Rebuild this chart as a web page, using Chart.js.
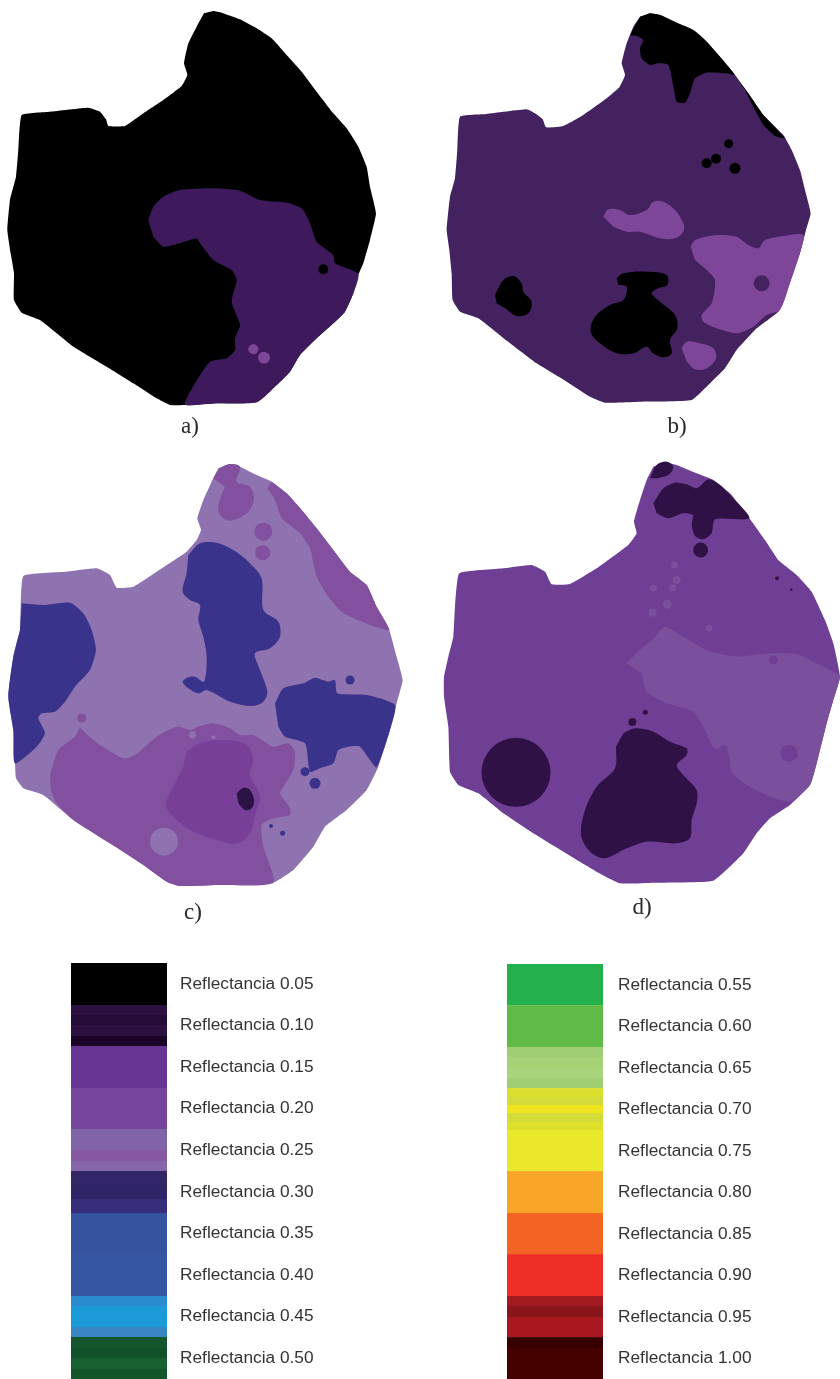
<!DOCTYPE html>
<html>
<head>
<meta charset="utf-8">
<title>Reflectancia</title>
<script src="https://cdn.jsdelivr.net/npm/chart.js@4/dist/chart.umd.min.js"></script>
<style>
  html, body { margin: 0; padding: 0; background: #fff; }
  #page { position: relative; width: 840px; height: 1379px; overflow: hidden; }
  canvas { position: absolute; }
  .tag { position: absolute; font-family: "Liberation Serif", serif; font-size: 23px; color: #2a2a2a; transform: translateX(-50%); line-height: 26px; }
</style>
</head>
<body>
<div id="page">
  <canvas id="mapA" style="left:0;top:0" width="420" height="440"></canvas>
  <canvas id="mapB" style="left:420px;top:0" width="420" height="440"></canvas>
  <canvas id="mapC" style="left:0;top:450px" width="420" height="480"></canvas>
  <canvas id="mapD" style="left:420px;top:450px" width="420" height="480"></canvas>
  <canvas id="legendLeft" style="left:71px;top:963px" width="260" height="416"></canvas>
  <canvas id="legendRight" style="left:507px;top:964px" width="260" height="415"></canvas>
  <div class="tag" style="left:190px;top:413px">a)</div>
  <div class="tag" style="left:677px;top:413px">b)</div>
  <div class="tag" style="left:193px;top:899px">c)</div>
  <div class="tag" style="left:642px;top:894px">d)</div>
</div>
<script>
// legend
const leftLabels = ["Reflectancia 0.05", "Reflectancia 0.10", "Reflectancia 0.15", "Reflectancia 0.20", "Reflectancia 0.25", "Reflectancia 0.30", "Reflectancia 0.35", "Reflectancia 0.40", "Reflectancia 0.45", "Reflectancia 0.50"];
const rightLabels = ["Reflectancia 0.55", "Reflectancia 0.60", "Reflectancia 0.65", "Reflectancia 0.70", "Reflectancia 0.75", "Reflectancia 0.80", "Reflectancia 0.85", "Reflectancia 0.90", "Reflectancia 0.95", "Reflectancia 1.00"];
// each swatch is printed with faint bands, top to bottom
const leftShades = [["#000000"], ["#2c1040", "#240a36", "#2c1040", "#1c0428"], ["#663594"], ["#74459c"], ["#7f63a8", "#8262a8", "#8458a3", "#8866ab"], ["#322568", "#2f2465", "#352c7a"], ["#36539f"], ["#3655a3"], ["#2a8ccf", "#1c9ad8", "#1c9ad8", "#3a86c4"], ["#14572c", "#10502a", "#17602f", "#12552b"]];
const rightShades = [["#22b14c"], ["#60bc46"], ["#a0ce74", "#a6d275", "#a9d47c", "#9fcf72"], ["#dbe02f", "#d4dc3a", "#efe41e", "#d4dc3a", "#dfe02a"], ["#eae82a"], ["#f9a628"], ["#f36324"], ["#ef2e27"], ["#a01a20", "#8a1519", "#a8181f", "#a8181f"], ["#360000", "#470000", "#470000", "#470000"]];
const swatchLength = [1, 1, 1, 1, 1, 1, 1, 1, 1, 1];

// map regions, [x, y] in map units (3 units = 1 px)
const outlineA = [[640,33],[665,38],[720,58],[770,85],[815,115],[860,165],[905,215],[950,275],[1000,340],[1040,385],[1075,440],[1100,500],[1110,560],[1128,640],[1110,720],[1090,790],[1075,825],[1060,880],[1035,935],[1000,970],[950,1015],[900,1065],[870,1115],[830,1155],[770,1207],[650,1210],[560,1215],[510,1215],[470,1195],[400,1150],[320,1100],[220,1040],[170,1000],[120,960],[65,938],[42,900],[42,820],[32,760],[22,690],[30,600],[48,530],[55,450],[65,345],[150,335],[265,323],[300,335],[318,358],[325,378],[375,378],[430,340],[490,300],[545,258],[562,225],[552,190],[565,130],[590,80],[612,40]];
const purpleA = [[445,660],[460,620],[490,590],[540,570],[640,565],[720,572],[780,600],[860,608],[905,625],[930,670],[950,725],[1000,765],[1005,790],[1075,822],[1060,880],[1035,935],[1000,970],[950,1015],[900,1065],[870,1115],[830,1155],[770,1207],[650,1210],[555,1214],[585,1150],[630,1085],[680,1075],[705,1050],[705,1015],[720,975],[695,905],[710,840],[695,810],[640,780],[600,730],[590,715],[540,730],[490,740],[460,710]];
const lightDotsA = [[760,1048,5],[792,1073,6]];
const blackDotsA = [[970,808,5]];

const outlineB = [[690,40],[720,45],[770,68],[820,90],[860,125],[900,170],[945,225],[985,280],[1030,345],[1090,405],[1115,450],[1140,510],[1155,570],[1172,640],[1158,690],[1140,760],[1115,830],[1095,890],[1075,935],[1010,985],[950,1050],[915,1105],[880,1140],[815,1200],[660,1205],[555,1208],[510,1190],[440,1145],[350,1090],[245,1010],[175,955],[120,935],[98,900],[95,820],[88,750],[80,690],[90,590],[105,535],[112,450],[120,350],[200,342],[320,328],[345,340],[368,358],[378,382],[430,378],[490,345],[560,295],[598,262],[615,225],[605,190],[620,130],[640,80],[660,50]];
const blackTopB = [[690,40],[720,45],[770,68],[820,90],[860,125],[900,170],[945,225],[920,220],[860,218],[825,235],[810,280],[795,308],[770,305],[762,270],[745,195],[715,190],[690,195],[665,175],[660,145],[670,120],[650,108],[632,105],[660,50]];
const blackEdgeB = [[945,225],[985,280],[1030,345],[1095,415],[1065,408],[1030,375],[1005,330],[975,270]];
const blackLeftB = [[225,885],[250,840],[280,828],[305,850],[310,875],[335,905],[325,940],[290,948],[255,925],[230,910]];
const blackMidB = [[590,835],[610,820],[680,815],[740,825],[742,855],[715,865],[695,880],[720,905],[765,945],[772,985],[750,1020],[755,1060],[730,1072],[700,1060],[680,1040],[640,1060],[590,1060],[540,1030],[512,995],[525,950],[570,915],[610,900],[620,860],[595,855]];
const lightOneB = [[550,650],[565,628],[600,630],[630,645],[680,630],[700,605],[730,605],[765,630],[790,670],[790,695],[765,715],[720,715],[660,695],[620,695],[580,680]];
const lightTwoB = [[812,740],[825,720],[890,705],[950,710],[985,735],[1015,745],[1035,720],[1090,708],[1150,705],[1135,775],[1110,850],[1080,930],[1040,945],[1000,980],[950,1000],[890,985],[850,965],[845,945],[875,910],[885,840],[860,810],[825,780]];
const lightThreeB = [[785,1045],[800,1025],[840,1030],[880,1045],[888,1075],[860,1105],[825,1108],[800,1085]];
const blackDotsB = [[926,431,4.5],[945,505,5.5],[860,490,5],[888,476,5]];
const baseDotsB = [[1025,850,8]];

const outlineC = [[690,42],[720,50],[770,75],[815,95],[860,130],[905,180],[950,235],[1000,300],[1050,365],[1100,405],[1130,470],[1165,530],[1190,620],[1208,690],[1190,760],[1170,840],[1135,950],[1100,1020],[1040,1080],[975,1130],[940,1190],[880,1260],[820,1298],[650,1305],[540,1308],[500,1295],[430,1245],[330,1180],[220,1110],[130,1035],[70,1015],[48,985],[45,935],[40,840],[25,740],[40,620],[60,540],[70,378],[200,365],[290,355],[330,375],[350,413],[400,410],[470,365],[560,305],[590,270],[603,240],[592,205],[610,150],[635,95],[655,55]];
const blueLeftC = [[65,460],[130,465],[210,458],[250,490],[275,540],[288,600],[270,660],[225,710],[195,755],[165,785],[125,790],[115,805],[135,850],[110,890],[45,940],[40,840],[25,740],[40,620],[60,540]];
const blueMidC = [[565,315],[600,280],[650,278],[700,300],[745,335],[785,385],[790,480],[835,515],[840,560],[810,595],[765,610],[780,660],[802,725],[790,755],[755,768],[690,755],[620,720],[595,730],[565,715],[548,695],[565,682],[585,680],[612,695],[620,620],[610,560],[595,510],[600,465],[570,450],[548,425],[560,370]];
const blueRightC = [[825,760],[850,715],[910,700],[945,683],[985,695],[1005,690],[1012,730],[1100,735],[1185,765],[1170,840],[1130,952],[1110,930],[1080,890],[1045,890],[1015,900],[1000,940],[960,955],[930,965],[915,880],[855,860],[835,830]];
const midTopC = [[640,85],[660,55],[690,42],[720,50],[710,95],[750,110],[762,145],[745,185],[690,212],[660,195],[655,165],[675,110]];
const midEdgeC = [[815,95],[860,130],[905,180],[950,235],[1000,300],[1050,365],[1100,405],[1130,470],[1168,540],[1110,525],[1030,490],[985,440],[950,380],[930,295],[900,250],[845,205],[825,150],[802,115]];
const midLowC = [[150,975],[175,900],[225,860],[240,835],[262,855],[300,885],[370,925],[405,915],[470,860],[530,830],[570,840],[595,830],[640,820],[690,835],[720,855],[760,855],[820,890],[865,880],[885,905],[880,960],[850,1010],[840,1030],[870,1075],[870,1095],[820,1105],[785,1125],[790,1190],[820,1298],[650,1305],[540,1308],[500,1295],[430,1245],[330,1180],[220,1110],[170,1060],[152,1020]];
const deepC = [[560,905],[600,880],[670,870],[740,885],[760,930],[750,975],[780,1040],[765,1095],[755,1140],[715,1180],[650,1170],[570,1140],[510,1090],[498,1060],[530,990],[550,950]];
const darkC = [[710,1030],[730,1013],[750,1020],[762,1050],[755,1075],[735,1080],[715,1060]];
const blueDotsC = [[1050,690,4.5],[915,965,4.5],[945,1000,5.5],[813,1128,2],[848,1150,2.5]];
const midDotsC = [[790,245,9],[788,308,7.5],[245,804,4.5]];
const baseDotsC = [[492,1175,14],[640,862,2],[578,855,3.5]];

const outlineD = [[735,35],[770,45],[830,70],[880,90],[930,130],[985,200],[1035,270],[1075,330],[1130,375],[1175,425],[1215,510],[1240,580],[1260,680],[1240,750],[1220,820],[1195,920],[1170,1005],[1110,1065],[1050,1105],[1010,1150],[970,1210],[880,1292],[700,1298],[600,1300],[530,1265],[430,1205],[340,1150],[250,1090],[175,1030],[115,1005],[90,965],[85,830],[72,740],[72,680],[85,620],[100,560],[105,470],[118,370],[250,355],[335,345],[375,365],[395,403],[450,402],[530,355],[625,285],[650,250],[642,215],[660,150],[680,90],[700,50]];
const paleD = [[620,640],[650,610],[700,565],[735,530],[790,560],[860,600],[950,620],[1050,610],[1130,612],[1190,640],[1260,680],[1240,750],[1220,820],[1195,920],[1170,1005],[1110,1055],[1040,1035],[980,1005],[935,965],[925,910],[880,890],[850,830],[820,785],[740,760],[680,725],[665,670]];
const darkCapD = [[690,85],[710,45],[740,35],[760,50],[745,75],[710,85]];
const darkTopD = [[700,160],[730,115],[765,98],[800,103],[830,115],[865,88],[900,105],[940,145],[988,205],[885,208],[875,250],[850,268],[825,258],[815,225],[818,195],[790,190],[745,205],[710,190]];
const darkBigD = [[610,850],[645,835],[700,845],[750,875],[800,895],[800,915],[770,945],[790,975],[830,1020],[830,1060],[815,1110],[810,1165],[770,1180],[680,1175],[620,1195],[555,1225],[510,1205],[483,1155],[495,1080],[530,1010],[585,955],[588,890]];
const darkDotsD = [[288,967,34.5],[842,300,7.5],[1071,385,2],[1114,419,1.2],[676,787,2.5],[637,816,4]];
const paleDotsD = [[763,345,3.5],[770,390,4],[758,413,3.5],[700,415,3.5],[742,463,4.5],[698,488,4],[867,535,3.5]];
const baseDotsD = [[1060,630,4.5],[1107,910,8.5],[910,900,4.5]];

const pairs = (list) => list.map((p) => ({ x: p[0], y: p[1] }));

function region(points, color, tension) {
  return { data: pairs(points), backgroundColor: color, showLine: true, borderWidth: 0, pointRadius: 0, tension: tension === undefined ? 0.35 : tension, closedRegion: true };
}

function dots(list, color) {
  return { data: pairs(list), pointBackgroundColor: color, pointBorderWidth: 0, pointRadius: list.map((d) => d[2]), showLine: false };
}

// fill the line element's own path, so the region goes through the chart's scales
const regionFill = {
  id: "regionFill",
  afterDatasetDraw(chart, args) {
    const ds = chart.data.datasets[args.index];
    if (!ds.closedRegion) return;
    const ctx = chart.ctx;
    ctx.save();
    ctx.beginPath();
    args.meta.dataset.path(ctx);
    ctx.closePath();
    ctx.fillStyle = ds.backgroundColor;
    ctx.fill();
    ctx.restore();
  }
};

function drawMap(id, datasets) {
  const canvas = document.getElementById(id);
  // datasets later in the list go on top
  datasets.forEach((d, i) => { d.order = datasets.length - i; });
  return new Chart(canvas, {
    type: "scatter",
    data: { datasets: datasets },
    plugins: [regionFill],
    options: {
      responsive: false,
      animation: false,
      layout: { padding: 0, autoPadding: false },
      plugins: { legend: { display: false }, tooltip: { enabled: false } },
      scales: {
        x: { display: false, min: 0, max: canvas.width * 3 },
        y: { display: false, min: 0, max: canvas.height * 3, reverse: true }
      }
    }
  });
}

// one vertical gradient with hard stops, one group of bands per swatch
function bandedFill(canvas, shades) {
  const grad = canvas.getContext("2d").createLinearGradient(0, 0, 0, canvas.height);
  shades.forEach((bands, i) => {
    bands.forEach((c, k) => {
      grad.addColorStop((i + k / bands.length) / shades.length, c);
      grad.addColorStop((i + (k + 1) / bands.length) / shades.length, c);
    });
  });
  return grad;
}

function drawLegend(id, labels, shades, gap) {
  const canvas = document.getElementById(id);
  return new Chart(canvas, {
    type: "bar",
    data: {
      labels: labels,
      datasets: [{ data: swatchLength, backgroundColor: bandedFill(canvas, shades), barPercentage: 1, categoryPercentage: 1, borderWidth: 0 }]
    },
    options: {
      indexAxis: "y",
      responsive: false,
      animation: false,
      layout: { padding: 0, autoPadding: false },
      plugins: { legend: { display: false }, tooltip: { enabled: false } },
      scales: {
        x: { display: false, min: 0, max: 1 },
        y: {
          position: "right",
          afterFit: (scale) => { scale.width = 164; scale.paddingTop = 0; scale.paddingBottom = 0; },
          grid: { display: false, drawTicks: false },
          border: { display: false },
          ticks: { padding: gap, color: "#333333", autoSkip: false, font: { family: "'Liberation Sans'", size: 17.3 } }
        }
      }
    }
  });
}

drawMap("mapA", [
  region(outlineA, "#000000", 0.12),
  region(purpleA, "#3e1a5c", 0.2),
  dots(lightDotsA, "#7d4698"),
  dots(blackDotsA, "#000000")
]);

drawMap("mapB", [
  region(outlineB, "#44215f", 0.12),
  region(blackTopB, "#000000", 0.2),
  region(blackEdgeB, "#000000", 0.12),
  region(blackLeftB, "#000000"),
  region(blackMidB, "#000000"),
  region(lightOneB, "#7e4699"),
  region(lightTwoB, "#7e4699", 0.25),
  region(lightThreeB, "#7e4699"),
  dots(blackDotsB, "#000000"),
  dots(baseDotsB, "#44215f")
]);

drawMap("mapC", [
  region(outlineC, "#8f72b0", 0.12),
  region(midTopC, "#82509f"),
  region(midEdgeC, "#82509f", 0.15),
  region(midLowC, "#82509f", 0.2),
  region(deepC, "#783f98"),
  region(darkC, "#2a1245"),
  region(blueLeftC, "#39338c", 0.2),
  region(blueMidC, "#39338c", 0.3),
  region(blueRightC, "#39338c", 0.2),
  dots(blueDotsC, "#39338c"),
  dots(midDotsC, "#82509f"),
  dots(baseDotsC, "#8f72b0")
]);

drawMap("mapD", [
  region(outlineD, "#6f3f96", 0.12),
  region(paleD, "#7a4f9c", 0.2),
  region(darkCapD, "#301145"),
  region(darkTopD, "#301145", 0.25),
  region(darkBigD, "#301145", 0.3),
  dots(darkDotsD, "#301145"),
  dots(paleDotsD, "#7a4f9c"),
  dots(baseDotsD, "#6f3f96")
]);

drawLegend("legendLeft", leftLabels, leftShades, 13);
drawLegend("legendRight", rightLabels, rightShades, 15);
</script>
</body>
</html>
